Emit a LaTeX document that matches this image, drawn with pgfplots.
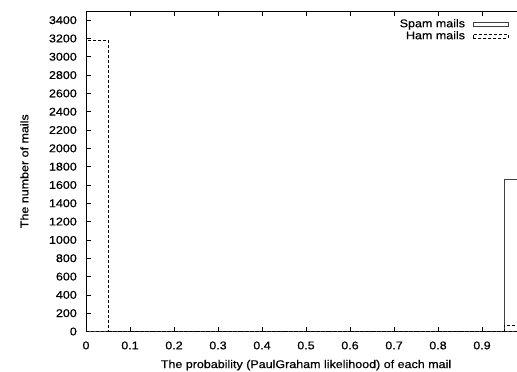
\documentclass[border=0pt]{standalone}
\usepackage{fontspec}
\setmainfont{Liberation Sans}[FakeStretch=1.12, FakeBold=0.6]
\usepackage{pgfplots}
\pgfplotsset{compat=1.18}
\begin{document}
\fontsize{11.2}{13}\selectfont
\begin{tikzpicture}[font=\fontsize{11.2}{13}\selectfont]
\begin{axis}[
  at={(86bp,40.5bp)}, anchor=south west,
  scale only axis, width=440bp, height=320.5bp,
  xmin=0, xmax=1, ymin=0, ymax=3500,
  xtick={0,0.1,0.2,0.3,0.4,0.5,0.6,0.7,0.8,0.9},
  xticklabels={0,0.1,0.2,0.3,0.4,0.5,0.6,0.7,0.8,0.9},
  ytick={0,200,...,3400},
  tick align=inside, major tick length=5bp,
  tick style={black, line width=0.6bp},
  axis line style={line width=0.9bp},
  /pgf/number format/assume math mode=true,
  every tick label/.append style={font=\fontsize{11.2}{13}\selectfont},
  yticklabel style={/pgf/number format/1000 sep={}, anchor=east, inner sep=0pt, xshift=-9bp},
  xticklabel style={anchor=base, inner sep=0pt, yshift=-17.8bp},
  scaled ticks=false,
  xlabel={The probability (PaulGraham likelihood) of each mail},
  ylabel={The number of mails},
  xlabel style={at={(axis description cs:0.5,-0.114)}, anchor=base, inner sep=0pt, font=\fontsize{11.2}{13}\selectfont},
  ylabel style={at={(axis description cs:-0.14,0.5)}, anchor=center, inner sep=0pt, font=\fontsize{11.2}{13}\selectfont},
  legend plot pos=right,
  legend cell align=right,
  legend image code/.code={\draw[#1] (0bp,-2bp) rectangle (35bp,2bp);},
  legend style={at={(axis description cs:0.9614,0.975)}, anchor=north east,
    draw=none, fill=none, inner sep=0pt, row sep=1.5bp, column sep=8bp,
    font=\fontsize{11.2}{13}\selectfont,
    nodes={inner sep=0pt, text height=8bp, text depth=2.5bp}},
]
\addplot[ybar interval, draw=black!75, line width=0.8bp, fill=none] coordinates {
 (0,0) (0.05,0) (0.1,0) (0.15,0) (0.2,0) (0.25,0) (0.3,0) (0.35,0) (0.4,0) (0.45,0)
 (0.5,0) (0.55,0) (0.6,0) (0.65,0) (0.7,0) (0.75,0) (0.8,0) (0.85,0) (0.9,0) (0.95,1663) (1.0,1663)};
\addlegendentry{Spam mails}
\addplot[ybar interval, draw=black, line width=0.8bp, fill=none, dash pattern=on 3bp off 2bp] coordinates {
 (0,3183) (0.05,0) (0.1,0) (0.15,0) (0.2,0) (0.25,0) (0.3,0) (0.35,0) (0.4,0) (0.45,0)
 (0.5,0) (0.55,0) (0.6,0) (0.65,0) (0.7,0) (0.75,0) (0.8,0) (0.85,0) (0.9,0) (0.95,71) (1.0,71)};
\addlegendentry{Ham mails}
\end{axis}
\pgfresetboundingbox
\useasboundingbox (0,0) rectangle (517bp,372bp);
\end{tikzpicture}
\end{document}
